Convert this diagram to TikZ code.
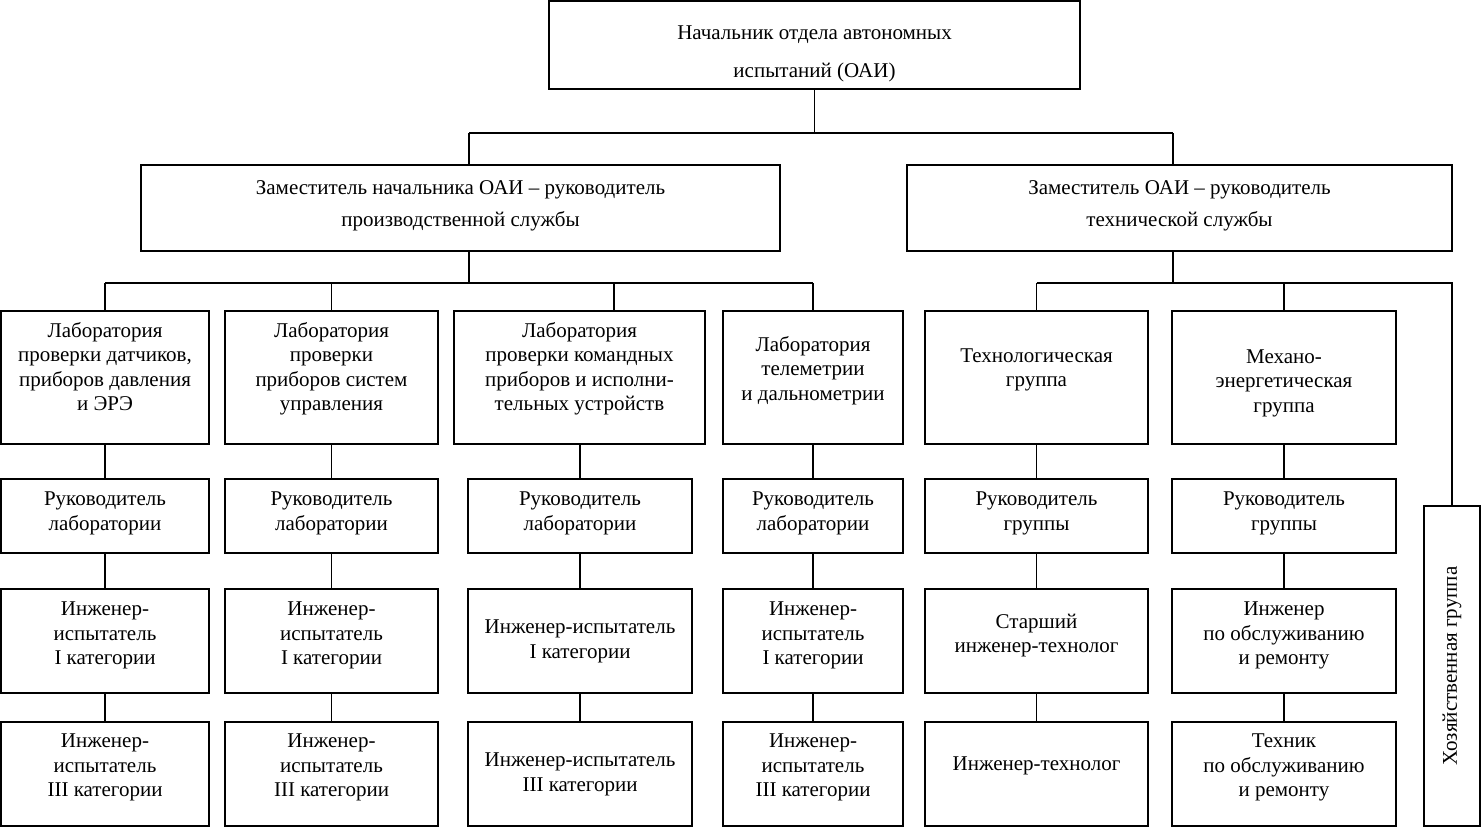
\documentclass[tikz,border=0pt]{standalone}
\usepackage{fontspec}
\usepackage{graphicx}
\setmainfont{Liberation Serif}
\tikzset{
  bx/.style={draw, line width=1.6pt, inner sep=0pt,
    font=\fontsize{21}{24.5}\selectfont},
  conn/.style={line width=1.3pt},
}
% \bx[opts]{up}{x1}{y1}{x2}{y2}{name}{text}
\newcommand{\bx}[8][]{%
  \node[bx,#1, minimum width={#5-#3}, minimum height={#6-#4}]
    (#7) at ({(#3+#5)/2},{(#4+#6)/2})
    {\raisebox{\dimexpr #2pt-5.25pt\relax}[0pt][0pt]{\begin{tabular}{@{}c@{}}#8\end{tabular}}};}
\begin{document}
\begin{tikzpicture}[x=1pt,y=-1pt]
\useasboundingbox (0,0) rectangle (1481,827);
% top
\bx[font=\fontsize{21}{38}\selectfont]{-5.7}{549}{1}{1080}{89}{top}{Начальник отдела автономных\\испытаний (ОАИ)}
% deputies
\bx[font=\fontsize{21}{32}\selectfont]{3.6}{141}{165}{780}{251}{dl}{Заместитель начальника ОАИ – руководитель\\производственной службы}
\bx[font=\fontsize{21}{32}\selectfont]{3.6}{907}{165}{1452}{251}{dr}{Заместитель ОАИ – руководитель\\технической службы}
% labs row
\bx{8.5}{1}{311}{209}{444}{labA}{Лаборатория\\проверки датчиков,\\приборов давления\\и ЭРЭ}
\bx{8.5}{225}{311}{438}{444}{labB}{Лаборатория\\проверки\\приборов систем\\управления}
\bx{8.5}{454}{311}{705}{444}{labC}{Лаборатория\\проверки командных\\приборов и исполни-\\тельных устройств}
\bx{6.5}{723}{311}{903}{444}{labD}{Лаборатория\\телеметрии\\и дальнометрии}
\bx{8}{925}{311}{1148}{444}{tech}{Технологическая\\группа}
\bx{-5.5}{1172}{311}{1396}{444}{mech}{Механо-\\энергетическая\\группа}
% row 2
\bx{3}{1}{479}{209}{553}{rA}{Руководитель\\лаборатории}
\bx{3}{225}{479}{438}{553}{rB}{Руководитель\\лаборатории}
\bx{3}{468}{479}{692}{553}{rC}{Руководитель\\лаборатории}
\bx{3}{723}{479}{903}{553}{rD}{Руководитель\\лаборатории}
\bx{3}{925}{479}{1148}{553}{rT}{Руководитель\\группы}
\bx{3}{1172}{479}{1396}{553}{rM}{Руководитель\\группы}
% row 3
\bx{5.5}{1}{589}{209}{693}{iA}{Инженер-\\испытатель\\I категории}
\bx{5.5}{225}{589}{438}{693}{iB}{Инженер-\\испытатель\\I категории}
\bx{0}{468}{589}{692}{693}{iC}{Инженер-испытатель\\I категории}
\bx{5.5}{723}{589}{903}{693}{iD}{Инженер-\\испытатель\\I категории}
\bx{5.5}{925}{589}{1148}{693}{iT}{Старший\\инженер-технолог}
\bx{5.5}{1172}{589}{1396}{693}{iM}{Инженер\\по обслуживанию\\и ремонту}
% row 4
\bx{6.5}{1}{722}{209}{826}{jA}{Инженер-\\испытатель\\III категории}
\bx{6.5}{225}{722}{438}{826}{jB}{Инженер-\\испытатель\\III категории}
\bx{0}{468}{722}{692}{826}{jC}{Инженер-испытатель\\III категории}
\bx{6.5}{723}{722}{903}{826}{jD}{Инженер-\\испытатель\\III категории}
\bx{8}{925}{722}{1148}{826}{jT}{Инженер-технолог}
\bx{6.5}{1172}{722}{1396}{826}{jM}{Техник\\по обслуживанию\\и ремонту}
% side group
\node[bx, minimum width=56, minimum height=320] (hoz) at (1452,666)
  {\rotatebox{90}{Хозяйственная группа}};
% connectors
\coordinate (jL) at (469,133);
\coordinate (jR) at (1173,133);
\draw[conn] (top.south) -- (top.south |- jL);
\draw[conn] (jL) -- (jR);
\draw[conn] (jL) -- (jL |- dl.north);
\draw[conn] (jR) -- (jR |- dr.north);
\coordinate (kL) at (469,283);
\coordinate (kC) at (614,283);
\draw[conn] (kL |- dl.south) -- (kL);
\draw[conn] (labA.north |- kL) -- (labD.north |- kL);
\draw[conn] (labA.north |- kL) -- (labA.north);
\draw[conn] (labB.north |- kL) -- (labB.north);
\draw[conn] (kC) -- (kC |- labC.north);
\draw[conn] (labD.north |- kL) -- (labD.north);
\coordinate (kR) at (1173,283);
\draw[conn] (kR |- dr.south) -- (kR);
\draw[conn] (tech.north |- kR) -- (hoz.north |- kR) -- (hoz.north);
\draw[conn] (tech.north |- kR) -- (tech.north);
\draw[conn] (mech.north |- kR) -- (mech.north);
\foreach \c in {A,B,D}{
  \draw[conn] (lab\c.south) -- (r\c.north);
}
\draw[conn] (labC.south -| rC.north) -- (rC.north);
\draw[conn] (tech.south) -- (rT.north);
\draw[conn] (mech.south) -- (rM.north);
\foreach \c in {A,B,C,D,T,M}{
  \draw[conn] (r\c.south) -- (i\c.north);
  \draw[conn] (i\c.south) -- (j\c.north);
}
\end{tikzpicture}
\end{document}
